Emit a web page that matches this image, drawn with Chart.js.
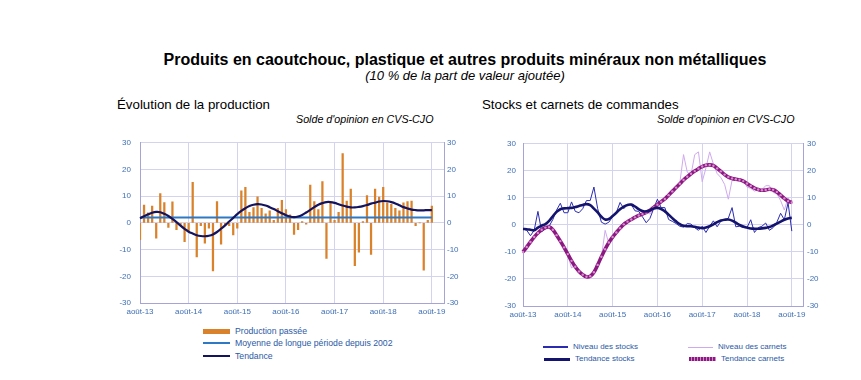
<!DOCTYPE html>
<html lang="fr">
<head>
<meta charset="UTF-8">
<title>Produits en caoutchouc, plastique et autres produits minéraux non métalliques</title>
<style>
  body { margin: 0; background: #fff; font-family: "Liberation Sans", Arial, sans-serif; }
  #page { position: relative; width: 861px; height: 380px; overflow: hidden; }
  .txt { position: absolute; white-space: nowrap; line-height: 1; }
  #title { left: 0; width: 930px; text-align: center; top: 52px; font-size: 16px; font-weight: bold; color: #000; }
  #subtitle { left: 0; width: 930px; text-align: center; top: 69px; font-size: 13px; font-style: italic; color: #000; }
  .panel-title { top: 98px; font-size: 13.3px; color: #000; }
  .unit { top: 114px; font-size: 10.7px; font-style: italic; color: #000; }
  .chart-box { position: absolute; }
  .legend { position: absolute; color: #2b5aa6; }
  .legend .row { position: absolute; white-space: nowrap; height: 10px; line-height: 10px; }
  .legend .sample { position: absolute; top: 50%; }
  .legend .label { position: absolute; top: 0; }
  .lg-left { font-size: 8.7px; }
  .lg-right { font-size: 8px; }
</style>
</head>
<body>
<div id="page">
  <div class="txt" id="title">Produits en caoutchouc, plastique et autres produits minéraux non métalliques</div>
  <div class="txt" id="subtitle">(10 % de la part de valeur ajoutée)</div>

  <div class="txt panel-title" style="left:117px">Évolution de la production</div>
  <div class="txt unit" style="left:296px">Solde d'opinion en CVS-CJO</div>
  <div class="txt panel-title" style="left:482px">Stocks et carnets de commandes</div>
  <div class="txt unit" style="left:657px">Solde d'opinion en CVS-CJO</div>

  <div class="chart-box" style="left:100px; top:129px; width:370px; height:193px">
    <canvas id="prodChart"></canvas>
  </div>
  <div class="chart-box" style="left:480px; top:132px; width:345px; height:193px">
    <canvas id="stockChart"></canvas>
  </div>

  <div class="legend" style="left:0; top:0">
    <div class="row lg-left" style="left:203px; top:326px">
      <span class="sample" style="left:0; width:27px; height:5px; margin-top:-2.5px; background:#d9822b"></span>
      <span class="label" style="left:32px">Production passée</span>
    </div>
    <div class="row lg-left" style="left:203px; top:338px">
      <span class="sample" style="left:0; width:27px; height:2px; margin-top:-1px; background:#2f78c4"></span>
      <span class="label" style="left:32px">Moyenne de longue période depuis 2002</span>
    </div>
    <div class="row lg-left" style="left:203px; top:351px">
      <span class="sample" style="left:0; width:27px; height:2px; margin-top:-1px; background:#14145e"></span>
      <span class="label" style="left:32px">Tendance</span>
    </div>

    <div class="row lg-right" style="left:543px; top:342px">
      <span class="sample" style="left:0; width:25px; height:1.5px; margin-top:-1px; background:#2b2bb0"></span>
      <span class="label" style="left:30px">Niveau des stocks</span>
    </div>
    <div class="row lg-right" style="left:544px; top:354px">
      <span class="sample" style="left:0; width:26px; height:3px; margin-top:-1.5px; background:#14146e"></span>
      <span class="label" style="left:31px">Tendance stocks</span>
    </div>
    <div class="row lg-right" style="left:688px; top:342px">
      <span class="sample" style="left:0; width:25px; height:1px; margin-top:-0.5px; background:#cfa9ee"></span>
      <span class="label" style="left:30px">Niveau des carnets</span>
    </div>
    <div class="row lg-right" style="left:689px; top:354px">
      <span class="sample" style="left:0; width:27px; height:4px; margin-top:-2px; background:repeating-linear-gradient(90deg,#8a1a80 0 2px,#d983cf 2px 3px)"></span>
      <span class="label" style="left:32px">Tendance carnets</span>
    </div>
  </div>
</div>

<script src="https://cdn.jsdelivr.net/npm/chart.js"></script>
<script>
"use strict"

// monthly categories, août-13 .. nov-19
const monthNames = ["janv", "févr", "mars", "avr", "mai", "juin", "juil", "août", "sept", "oct", "nov", "déc"]
const months = []
for (let y = 13; y <= 19; y++) {
  for (let m = 0; m < 12; m++) {
    if (y === 13 && m < 7) continue
    if (y === 19 && m > 10) continue
    months.push(monthNames[m] + "-" + y)
  }
}

// left panel: production passée (bars), long-term mean, trend
const production = [
  -6.3, 6.7, 3.8, 6.3, -5.7, 11, 7.6, -1.7, 7.9, -2.5,
  -1, -7, -3, 15.2, -12.7, -1, -7.6, -2, -18, 8,
  -8, -1, -1, -4.5, -2, 12, 13.3, 4, 5.7, 9.8,
  5.5, 3.4, 4.5, 1, 5.5, 8.5, 5, 3, -4.3, -2.5,
  0.5, -0.5, 14.2, 8, 5, 15.5, -13.3, 7.5, 1, 4,
  26, 8.2, 12.7, -16, -11, 0.5, 10.2, -11.8, 12.7, 9.7,
  13.3, 7.5, 7, 5.5, 4.5, 7.5, 8, 8.2, -1, 0,
  -17.7, 1, 6.3
]
const meanLevel = 2
const productionTrend = [
  1.7, 2.5, 3.2, 3.8, 4.1, 4.0, 3.4, 2.6, 1.5, 0.3,
  -1.0, -2.2, -3.3, -4.0, -4.6, -4.9, -5.0, -4.8, -4.3, -3.4,
  -2.2, -0.9, 0.5, 1.9, 3.3, 4.5, 5.5, 6.3, 6.8, 7.0,
  6.9, 6.5, 5.9, 5.2, 4.4, 3.6, 2.9, 2.4, 2.2, 2.4,
  3.0, 3.9, 4.9, 5.9, 6.8, 7.4, 7.8, 7.8, 7.5, 7.0,
  6.5, 6.1, 5.8, 5.8, 6.0, 6.3, 6.7, 7.2, 7.6, 8.0,
  8.2, 8.1, 7.8, 7.3, 6.6, 5.9, 5.4, 5.0, 4.8, 4.7,
  4.7, 4.8, 4.8
]

// right panel: stocks and order books
const stocks = [
  -1.5, -2, -4, -2, 5, -2.5, -1.5, -0.5, 2, 5.5,
  8, 4.5, 4.5, 8.5, 5, 4.5, 6, 9, 9, 14,
  6, 1, 0.3, 1, 3, 4.6, 8.3, 6, 7.6, 7.6,
  5.2, 5, 3, 0.8, 2.4, 6, 9.5, 6.4, 6.4, 2,
  1.3, 0.5, -0.5, -0.8, 0.5, 0.3, -1, -2, -0.5, -2.8,
  -0.5, 1.5, -0.7, 1.4, 1.8, 2.5, 6.4, -0.7, -0.5, -1,
  -1, 1.9, -2.8, -1, -0.5, 0.7, -2, -1, 1, 4.3,
  1.9, 8.2, -2.3
]
const stocksTrend = [
  -1.5, -1.6, -1.8, -2, -1, -0.3, 0.3, 1.5, 3.2, 4.8,
  5.8, 6.1, 6.2, 6.3, 6.6, 7, 7.4, 7.7, 7.3, 6,
  4.6, 3, 2, 2.2, 3.3, 4.5, 5.8, 6.8, 7.4, 7.5,
  6.8, 5.8, 5.1, 5, 5.4, 6.1, 6.3, 5.9, 5, 3.8,
  2.5, 1.3, 0.3, -0.3, -0.5, -0.5, -0.7, -1, -1.2, -1,
  -0.5, 0.2, 1, 1.6, 1.9, 2, 1.6, 0.8, 0, -0.6,
  -1, -1.3, -1.4, -1.4, -1.3, -1.1, -0.8, -0.2, 0.5, 1.2,
  1.9, 2.4, 2.6
]
const orders = [
  -10, -7, -6, -4, -3, -1, -1.5, 0, -1, -4.5,
  -6, -9, -11, -16, -14.5, -17, -18, -19.5, -18.5, -18,
  -15, -12, -2, -7, -4, -3, -1, 1, 1, 2.5,
  2.5, 4, 3.5, 5, 4, 6, 7.5, 8, 10, 11,
  12, 14, 15.5, 26, 19.5, 18.5, 26, 27, 16, 21,
  27, 22.5, 19, 17.5, 15, 9.5, 16.5, 17, 17, 16.5,
  14, 13.5, 12.5, 13, 13, 14.5, 14.5, 12, 11.5, 9,
  5.5, 10, 8
]
const ordersTrend = [
  -10, -8.2, -6.3, -4.5, -3, -1.8, -1, -0.8, -1.8, -3.8,
  -6, -8.3, -10.8, -13.3, -15.5, -17.2, -18.4, -19.2, -19, -17.5,
  -14.8, -11.8, -9, -6.5, -4.5, -2.8, -1.2, 0.2, 1.2, 2,
  2.8, 3.5, 4, 4.6, 5.4, 6.5, 7.5, 8.6, 9.6, 11,
  12.4, 13.8, 15.2, 16.6, 17.8, 18.9, 19.9, 20.8, 21.6, 22.1,
  22.2, 21.9, 20.9, 19.8, 18.6, 17.7, 17.2, 16.9, 16.7, 16.2,
  15.3, 14.4, 13.6, 13.1, 12.8, 12.9, 13.2, 13, 12.2, 11,
  9.8, 8.8, 8.3
]

const yTicks = [-30, -20, -10, 0, 10, 20, 30]

const tickColor = "#3f6fb5"
const gridColor = "#d3d3f0"
const borderColor = "#a4a4d6"
const tickFont = { family: "Liberation Sans", size: 8 }

function xScale(height) {
  return {
    type: "category",
    offset: false,
    grid: {
      offset: false,
      drawTicks: false,
      color: (c) => (c.index % 12 === 0 ? gridColor : "transparent")
    },
    border: { color: borderColor },
    ticks: {
      autoSkip: false,
      maxRotation: 0,
      padding: 4,
      color: tickColor,
      font: tickFont,
      callback: function (val, idx) {
        return idx % 12 === 0 ? this.getLabelForValue(val) : ""
      }
    },
    afterFit: (s) => { s.height = height }
  }
}

function yScale(pos, width, pad) {
  return {
    position: pos,
    min: -30,
    max: 30,
    afterBuildTicks: (s) => { s.ticks = yTicks.map(v => ({ value: v })) },
    grid: {
      drawTicks: false,
      color: gridColor,
      drawOnChartArea: pos === "left"
    },
    border: { color: borderColor },
    ticks: { padding: pad, color: tickColor, font: tickFont },
    afterFit: (s) => { s.width = width }
  }
}

const common = {
  responsive: true,
  maintainAspectRatio: false,
  animation: false,
  events: [],
  plugins: { legend: { display: false }, tooltip: { enabled: false } },
  elements: { point: { radius: 0 } }
}

// left chart
new Chart(document.getElementById("prodChart"), {
  type: "bar",
  data: {
    labels: months,
    datasets: [
      {
        type: "line",
        label: "Tendance",
        data: productionTrend,
        borderColor: "#14145e",
        borderWidth: 2.2,
        tension: 0.4,
        yAxisID: "y",
        order: 1
      },
      {
        type: "line",
        label: "Moyenne de longue période depuis 2002",
        data: production.map(() => meanLevel),
        borderColor: "#2f78c4",
        borderWidth: 2,
        yAxisID: "y",
        order: 2
      },
      {
        label: "Production passée",
        data: production,
        backgroundColor: "#d9822b",
        barThickness: 1.6,
        yAxisID: "y",
        order: 3
      }
    ]
  },
  options: Object.assign({}, common, {
    layout: { padding: { top: 0, left: 0, right: 0, bottom: 0 } },
    scales: {
      x: xScale(19),
      y: yScale("left", 40, 9),
      y2: yScale("right", 26, 3)
    }
  })
})

// right chart
new Chart(document.getElementById("stockChart"), {
  type: "line",
  data: {
    labels: months,
    datasets: [
      {
        label: "Tendance stocks",
        data: stocksTrend,
        borderColor: "#14146e",
        borderWidth: 2.6,
        tension: 0.4,
        yAxisID: "y",
        order: 1
      },
      {
        label: "Tendance carnets",
        data: ordersTrend,
        borderColor: "#8a1a80",
        borderWidth: 3.6,
        tension: 0.4,
        pointRadius: 1.2,
        pointBorderWidth: 0,
        pointBackgroundColor: "#dc88d2",
        yAxisID: "y",
        order: 2
      },
      {
        label: "Niveau des stocks",
        data: stocks,
        borderColor: "#2b2bb0",
        borderWidth: 1,
        yAxisID: "y",
        order: 3
      },
      {
        label: "Niveau des carnets",
        data: orders,
        borderColor: "#cfa9ee",
        borderWidth: 1,
        yAxisID: "y",
        order: 4
      }
    ]
  },
  options: Object.assign({}, common, {
    layout: { padding: { top: 0, left: 0, right: 0, bottom: 0 } },
    scales: {
      x: xScale(19),
      y: yScale("left", 43, 7),
      y2: yScale("right", 22, 4)
    }
  })
})
</script>
</body>
</html>
